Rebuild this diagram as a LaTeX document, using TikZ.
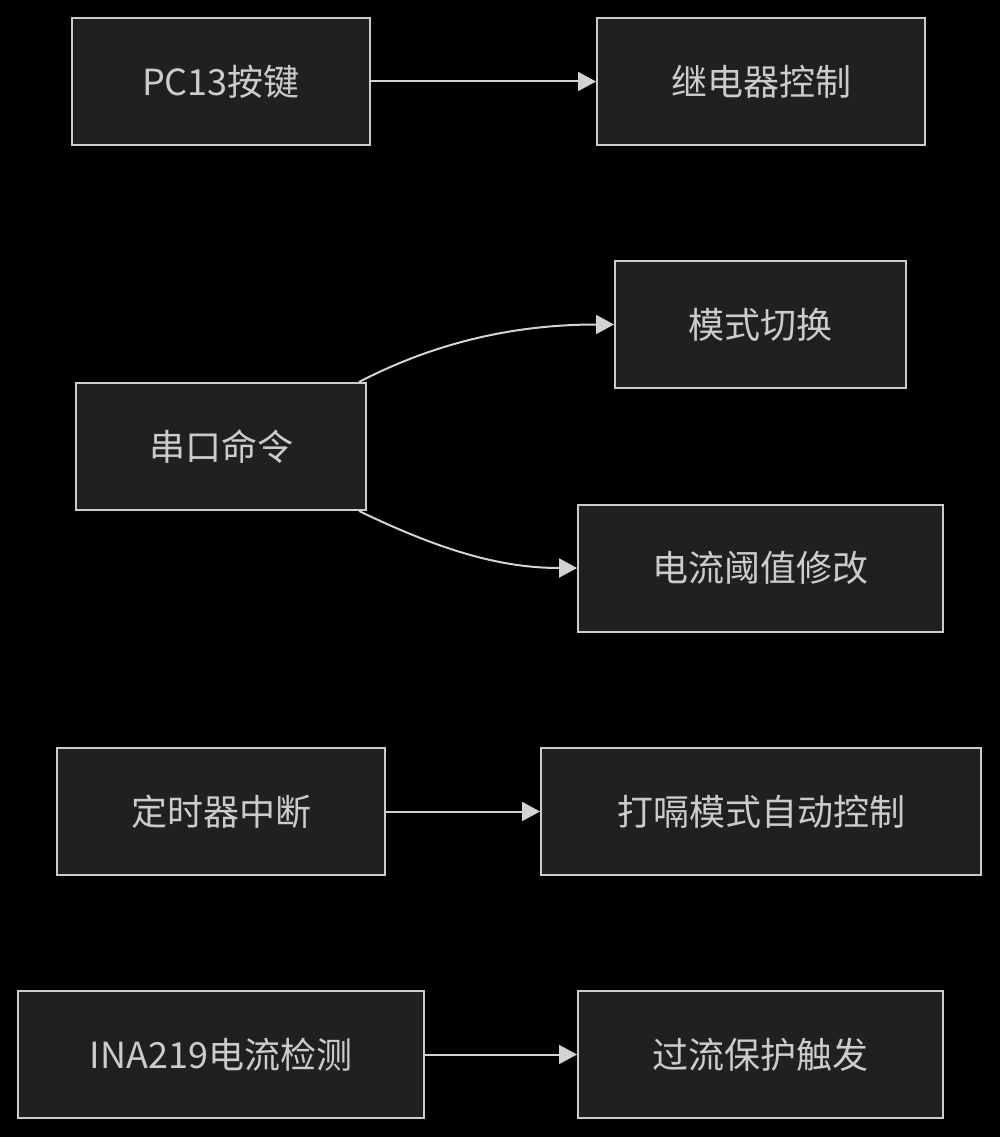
\documentclass[tikz,border=0pt]{standalone}
\usepackage{fontspec}
\setmainfont{Noto Sans CJK SC}
\usetikzlibrary{arrows.meta}
\definecolor{nodefill}{HTML}{1F2020}
\definecolor{nodeline}{HTML}{CCCCCC}
\definecolor{edgeline}{HTML}{D3D3D3}
\tikzset{
	box/.style={rectangle,fill=nodefill,draw=nodeline,line width=2pt,inner sep=0pt,minimum height=127pt,text=nodeline,font=\fontsize{36}{42}\selectfont},
	flow/.style={draw=edgeline,line width=2pt,-{Triangle[length=18pt,width=19pt]}},
	}
\begin{document}
\begin{tikzpicture}[x=1pt,y=-1pt]
\fill[black] (0,0) rectangle (1000,1137);
\useasboundingbox (0,0) rectangle (1000,1137);

\node (key) at (221,81.5) [box,minimum width=298pt] {PC13按键};
\node (relay) at (761,81.5) [box,minimum width=328pt] {继电器控制};
\node (ser) at (221,446.5) [box,minimum width=290pt] {串口命令};
\node (mode) at (760.5,324.5) [box,minimum width=291pt] {模式切换};
\node (thr) at (760.5,568) [box,minimum width=365pt] {电流阈值修改};
\node (tim) at (221,811.5) [box,minimum width=328pt] {定时器中断};
\node (hic) at (761,811.5) [box,minimum width=440pt] {打嗝模式自动控制};
\node (ina) at (221,1054.5) [box,minimum width=406pt] {INA219电流检测};
\node (ocp) at (760.5,1054.5) [box,minimum width=365pt] {过流保护触发};

 \draw[flow] (key) -- (relay);
 \draw[flow] ([xshift=-8pt]ser.north east) .. controls (440,340) and (520,324.5) .. (mode.west);
 \draw[flow] ([xshift=-8pt]ser.south east) .. controls (440,550) and (500,568) .. (thr.west);
 \draw[flow] (tim) -- (hic);
 \draw[flow] (ina) -- (ocp);
\end{tikzpicture}
\end{document}
